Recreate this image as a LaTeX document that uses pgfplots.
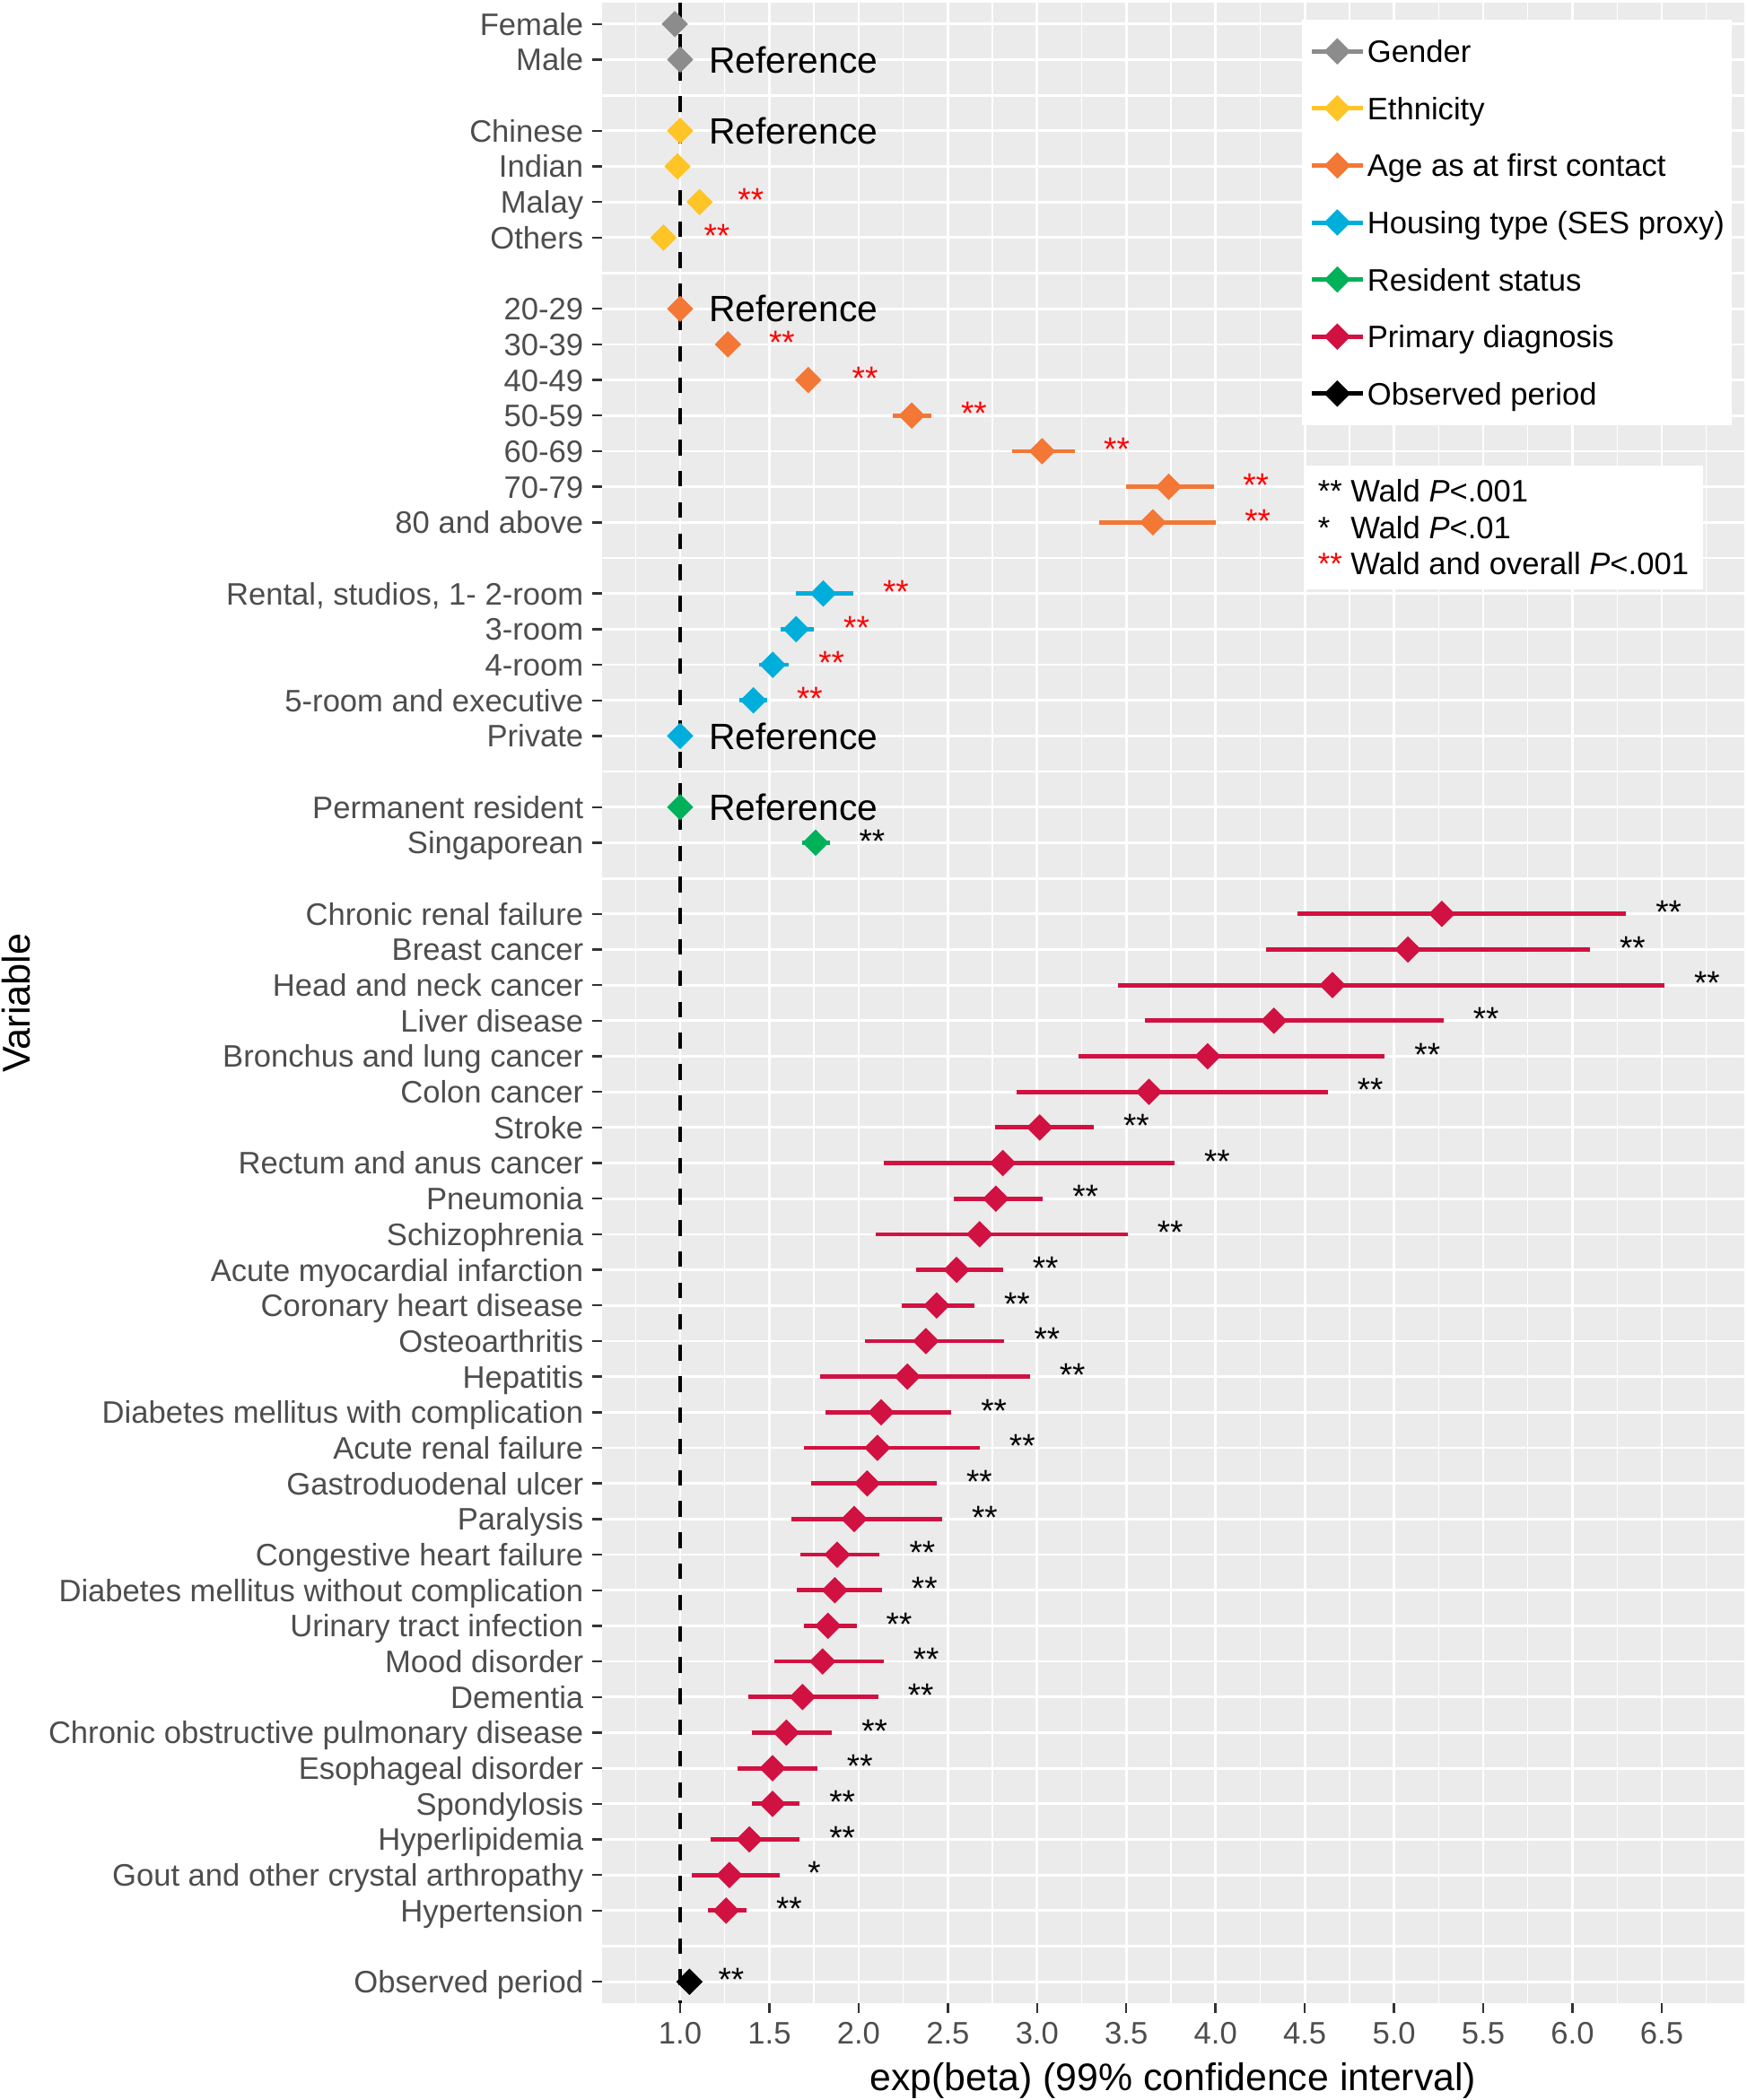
\documentclass[border=0pt]{standalone}
\usepackage{fontspec}
\setmainfont{Liberation Sans}
\usepackage{pgfplots}
\pgfplotsset{compat=1.18}
\usepackage{pgfplotstable}
\definecolor{gcol}{HTML}{8C8C8C}
\definecolor{ecol}{HTML}{FFC425}
\definecolor{acol}{HTML}{F37735}
\definecolor{hcol}{HTML}{00AEDB}
\definecolor{rcol}{HTML}{00B159}
\definecolor{pcol}{HTML}{D11141}
\definecolor{panel}{HTML}{EBEBEB}
\definecolor{tickc}{HTML}{4D4D4D}
\definecolor{tickm}{HTML}{333333}
\newcommand\fs{\fontsize{8.65pt}{10pt}\selectfont}
\newcommand\st[4]{\node[anchor=base west, inner sep=0pt, text=#3, font=\fontsize{9.2pt}{10pt}\selectfont] at (axis cs:#1,#2) {#4};}
\newcommand\reflab[1]{\node[anchor=west, inner sep=0pt, text height=7.3pt, text depth=0pt, font=\fontsize{10.2pt}{12pt}\selectfont] at (axis cs:1.158,#1) {Reference};}

\pgfplotstableread{
y x lo hi
0 0.97 0.97 0.97
1 1.00 1.00 1.00
}\gender
\pgfplotstableread{
y x lo hi
3 1.00 1.00 1.00
4 0.985 0.985 0.985
5 1.109 1.109 1.109
6 0.907 0.907 0.907
}\ethnic
\pgfplotstableread{
y x lo hi
8 1.00 1.00 1.00
9 1.268 1.25 1.29
10 1.718 1.66 1.78
11 2.298 2.19 2.41
12 3.028 2.86 3.21
13 3.738 3.50 3.99
14 3.649 3.35 4.00
}\age
\pgfplotstableread{
y x lo hi
16 1.802 1.65 1.969
17 1.65 1.563 1.75
18 1.519 1.442 1.61
19 1.41 1.333 1.49
20 1.00 1.00 1.00
}\housing
\pgfplotstableread{
y x lo hi
22 1.00 1.00 1.00
23 1.759 1.684 1.841
}\resident
\pgfplotstableread{
y x lo hi
25 5.268 4.457 6.30
26 5.078 4.284 6.097
27 4.655 3.451 6.515
28 4.327 3.602 5.277
29 3.956 3.231 4.948
30 3.627 2.885 4.628
31 3.015 2.765 3.317
32 2.808 2.143 3.77
33 2.769 2.532 3.032
34 2.678 2.096 3.507
35 2.549 2.32 2.808
36 2.437 2.243 2.648
37 2.377 2.036 2.817
38 2.273 1.785 2.959
39 2.126 1.816 2.519
40 2.105 1.695 2.678
41 2.048 1.734 2.437
42 1.975 1.621 2.467
43 1.88 1.673 2.118
44 1.867 1.652 2.13
45 1.828 1.695 1.988
46 1.798 1.53 2.139
47 1.686 1.384 2.109
48 1.595 1.401 1.85
49 1.518 1.323 1.768
50 1.518 1.401 1.669
51 1.388 1.172 1.669
52 1.276 1.064 1.56
53 1.258 1.155 1.371
}\prim
\pgfplotstableread{
y x lo hi
55 1.052 1.052 1.052
}\observed

\pgfplotsset{
  ci/.style={forget plot, only marks, mark=none,
    error bars/.cd, x dir=both, x explicit, error mark=none,
    error bar style={line width=1.2pt, draw=#1, solid}},
  pt/.style={forget plot, only marks, mark=diamond*, mark size=3.4pt, color=#1,
    mark options={xscale=1.333, fill=#1, draw=#1, line width=0.4pt, solid}},
  lg/.style={color=#1, mark=diamond*, mark size=3.4pt,
    mark options={xscale=1.333, fill=#1, draw=#1, line width=0.4pt, solid}},
}

\begin{document}
\begin{tikzpicture}
\useasboundingbox (0,0) rectangle (486.5pt,585.25pt);
\begin{axis}[
  at={(167.75pt,27pt)}, anchor=south west,
  scale only axis, width=318.25pt, height=557.5pt,
  xmin=0.5626, xmax=6.963,
  y dir=reverse, ymin=-0.6, ymax=55.6,
  clip=false,
  axis background/.style={fill=panel},
  axis line style={draw=none},
  tick pos=left, tick align=outside,
  major tick length=2.75pt, minor tick length=0pt,
  tick style={color=tickm, line width=0.6pt},
  xtick={1,1.5,2,2.5,3,3.5,4,4.5,5,5.5,6,6.5},
  minor xtick={0.75,1.25,1.75,2.25,2.75,3.25,3.75,4.25,4.75,5.25,5.75,6.25,6.75},
  xmajorgrids=true, xminorgrids=true, ymajorgrids=true,
  major grid style={white, line width=0.7pt},
  minor grid style={white, line width=0.35pt},
  /pgf/number format/assume math mode=true,
  xticklabel style={/pgf/number format/.cd, fixed, fixed zerofill, precision=1, /tikz/.cd,
     font=\fs, text=tickc, inner sep=0pt, anchor=north, text height=6.2pt, text depth=0pt, yshift=-2.25pt},
  ytick={0,1,3,4,5,6,8,9,10,11,12,13,14,16,17,18,19,20,22,23,25,26,27,28,29,30,31,32,33,34,35,36,37,38,39,40,41,42,43,44,45,46,47,48,49,50,51,52,53,55},
  yticklabels={Female,Male,Chinese,Indian,Malay,Others,20-29,30-39,40-49,50-59,60-69,70-79,80 and above,{Rental, studios, 1- 2-room},3-room,4-room,5-room and executive,Private,Permanent resident,Singaporean,Chronic renal failure,Breast cancer,Head and neck cancer,Liver disease,Bronchus and lung cancer,Colon cancer,Stroke,Rectum and anus cancer,Pneumonia,Schizophrenia,Acute myocardial infarction,Coronary heart disease,Osteoarthritis,Hepatitis,Diabetes mellitus with complication,Acute renal failure,Gastroduodenal ulcer,Paralysis,Congestive heart failure,Diabetes mellitus without complication,Urinary tract infection,Mood disorder,Dementia,Chronic obstructive pulmonary disease,Esophageal disorder,Spondylosis,Hyperlipidemia,Gout and other crystal arthropathy,Hypertension,Observed period},
  yticklabel style={font=\fs, text=tickc, inner sep=0pt, anchor=east, text height=6.2pt, text depth=0pt, xshift=-2.25pt},
  extra y ticks={2,7,15,21,24,54},
  extra y tick labels={,,,,,},
  extra y tick style={major tick length=0pt, grid=major},
  xlabel={exp(beta) (99\% confidence interval)},
  xlabel style={at={(axis description cs:0.5,-0.0435)}, anchor=base, inner sep=0pt, font=\fontsize{10.7pt}{12pt}\selectfont},
  ylabel={Variable},
  ylabel style={at={(axis description cs:-0.513,0.5)}, anchor=center, inner sep=0pt, font=\fontsize{10.8pt}{12pt}\selectfont},
  legend style={at={(0.6123,0.99175)}, anchor=north west, draw=none, fill=white,
    inner xsep=2pt, inner ysep=1.6pt, row sep=1.6pt, font=\fs,
    nodes={inner sep=0pt, text height=10.25pt, text depth=4.05pt},
    /tikz/every odd column/.append style={column sep=0.6pt}},
  legend cell align=left,
  legend image code/.code={\draw[#1, line width=1.25pt, mark repeat=2, mark phase=2] plot coordinates {(0pt,0pt) (7.15pt,0pt) (14.3pt,0pt)};},
]
% confidence intervals
\addplot[ci=gcol] table[x=x, y=y, x error plus expr=\thisrow{hi}-\thisrow{x}, x error minus expr=\thisrow{x}-\thisrow{lo}] {\gender};
\addplot[ci=ecol] table[x=x, y=y, x error plus expr=\thisrow{hi}-\thisrow{x}, x error minus expr=\thisrow{x}-\thisrow{lo}] {\ethnic};
\addplot[ci=acol] table[x=x, y=y, x error plus expr=\thisrow{hi}-\thisrow{x}, x error minus expr=\thisrow{x}-\thisrow{lo}] {\age};
\addplot[ci=hcol] table[x=x, y=y, x error plus expr=\thisrow{hi}-\thisrow{x}, x error minus expr=\thisrow{x}-\thisrow{lo}] {\housing};
\addplot[ci=rcol] table[x=x, y=y, x error plus expr=\thisrow{hi}-\thisrow{x}, x error minus expr=\thisrow{x}-\thisrow{lo}] {\resident};
\addplot[ci=pcol] table[x=x, y=y, x error plus expr=\thisrow{hi}-\thisrow{x}, x error minus expr=\thisrow{x}-\thisrow{lo}] {\prim};
\addplot[ci=black] table[x=x, y=y, x error plus expr=\thisrow{hi}-\thisrow{x}, x error minus expr=\thisrow{x}-\thisrow{lo}] {\observed};
% point estimates
\addplot[pt=gcol] table[x=x, y=y] {\gender};
\addplot[pt=ecol] table[x=x, y=y] {\ethnic};
\addplot[pt=acol] table[x=x, y=y] {\age};
\addplot[pt=hcol] table[x=x, y=y] {\housing};
\addplot[pt=rcol] table[x=x, y=y] {\resident};
\addplot[pt=pcol] table[x=x, y=y] {\prim};
\addplot[pt=black] table[x=x, y=y] {\observed};
% reference line
\addplot[forget plot, black, line width=1.15pt, dash pattern=on 4.35pt off 4.35pt] coordinates {(1,-0.6) (1,55.6)};
% reference labels
\reflab{1}\reflab{3}\reflab{8}\reflab{20}\reflab{22}
% significance stars
\st{1.32}{5.27}{red}{**}
\st{1.13}{6.27}{red}{**}
\st{1.494}{9.27}{red}{**}
\st{1.96}{10.27}{red}{**}
\st{2.57}{11.27}{red}{**}
\st{3.37}{12.27}{red}{**}
\st{4.15}{13.27}{red}{**}
\st{4.16}{14.27}{red}{**}
\st{2.133}{16.27}{red}{**}
\st{1.912}{17.27}{red}{**}
\st{1.772}{18.27}{red}{**}
\st{1.65}{19.27}{red}{**}
\st{1.999}{23.27}{black}{**}
\st{6.463}{25.27}{black}{**}
\st{6.26}{26.27}{black}{**}
\st{6.678}{27.27}{black}{**}
\st{5.44}{28.27}{black}{**}
\st{5.111}{29.27}{black}{**}
\st{4.791}{30.27}{black}{**}
\st{3.48}{31.27}{black}{**}
\st{3.933}{32.27}{black}{**}
\st{3.195}{33.27}{black}{**}
\st{3.67}{34.27}{black}{**}
\st{2.971}{35.27}{black}{**}
\st{2.811}{36.27}{black}{**}
\st{2.98}{37.27}{black}{**}
\st{3.122}{38.27}{black}{**}
\st{2.682}{39.27}{black}{**}
\st{2.841}{40.27}{black}{**}
\st{2.6}{41.27}{black}{**}
\st{2.63}{42.27}{black}{**}
\st{2.281}{43.27}{black}{**}
\st{2.293}{44.27}{black}{**}
\st{2.151}{45.27}{black}{**}
\st{2.302}{46.27}{black}{**}
\st{2.272}{47.27}{black}{**}
\st{2.013}{48.27}{black}{**}
\st{1.931}{49.27}{black}{**}
\st{1.832}{50.27}{black}{**}
\st{1.832}{51.27}{black}{**}
\st{1.712}{52.27}{black}{*}
\st{1.534}{53.27}{black}{**}
\st{1.21}{55.27}{black}{**}
% significance note
\node[anchor=north west, fill=white, inner xsep=4pt, inner ysep=4pt, align=left, font=\fontsize{8.65pt}{10.1pt}\selectfont]
  at (axis description cs:0.6135,0.7691)
  {** Wald \textit{P}<.001\\ {*}\textcolor{white}{*} Wald \textit{P}<.01\\ \textcolor{red}{**} Wald and overall \textit{P}<.001};
% legend
\addlegendimage{lg=gcol}\addlegendentry{Gender}
\addlegendimage{lg=ecol}\addlegendentry{Ethnicity}
\addlegendimage{lg=acol}\addlegendentry{Age as at first contact}
\addlegendimage{lg=hcol}\addlegendentry{Housing type (SES proxy)}
\addlegendimage{lg=rcol}\addlegendentry{Resident status}
\addlegendimage{lg=pcol}\addlegendentry{Primary diagnosis}
\addlegendimage{lg=black}\addlegendentry{Observed period}
\end{axis}
\end{tikzpicture}
\end{document}
